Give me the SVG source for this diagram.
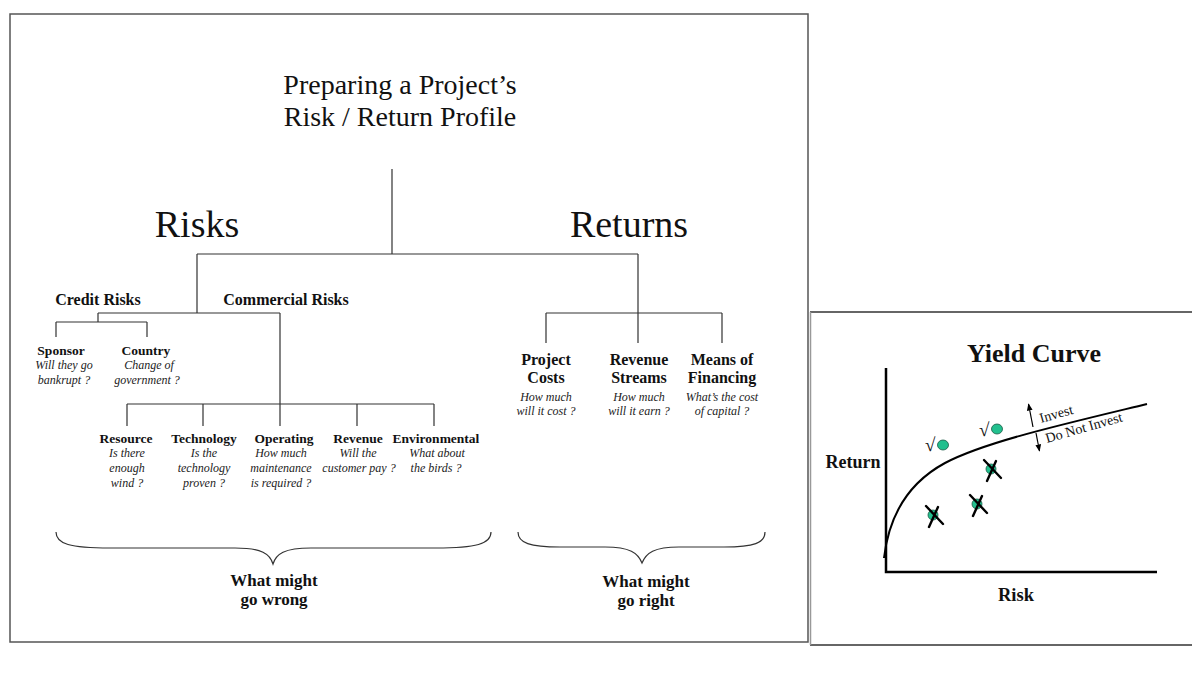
<svg xmlns="http://www.w3.org/2000/svg" width="1192" height="679" viewBox="0 0 1192 679">
<defs>
<style>
text{font-family:"Liberation Serif","Times New Roman",serif;fill:#111}
.t{font-size:28px;text-anchor:middle}
.big{font-size:38px;text-anchor:middle}
.h{font-size:16px;font-weight:bold;text-anchor:middle}
.b{font-size:13.5px;font-weight:bold;text-anchor:middle}
.i{font-size:12px;font-style:italic;text-anchor:middle;fill:#222}
.w{font-size:17px;font-weight:bold;text-anchor:middle}
.c{fill:none;stroke:#333;stroke-width:1.2}
.ax{fill:none;stroke:#000;stroke-width:2.5}
.dot{fill:#22c08e;stroke:#1a5a45;stroke-width:0.8}
.x{stroke:#000;stroke-width:2.4;stroke-linecap:round;fill:none}
.chk{font-size:19px}
</style>
<marker id="ah" viewBox="0 0 10 10" refX="9" refY="5" markerWidth="6" markerHeight="6" orient="auto">
<path d="M0,1 L10,5 L0,9 Z" fill="#000"/>
</marker>
</defs>
<rect width="1192" height="679" fill="#fff"/>
<!-- frames -->
<rect x="10" y="14" width="798" height="628" fill="none" stroke="#555" stroke-width="1.5"/>
<line x1="810" y1="312" x2="1192" y2="312" stroke="#666" stroke-width="2"/>
<line x1="810" y1="645" x2="1192" y2="645" stroke="#666" stroke-width="2"/>
<line x1="810.5" y1="312" x2="810.5" y2="645" stroke="#999" stroke-width="1.5"/>

<g id="connectors">
<path class="c" d="M392,169 V254 M197,254 H638 M197,254 V313 M638,254 V313"/>
<path class="c" d="M98,313 H280 M98,313 V322 M56,322 H147 M56,322 V337 M147,322 V337"/>
<path class="c" d="M280,313 V404 M127,404 H434 M127,404 V426 M203,404 V426 M280,404 V426 M357,404 V426 M434,404 V426"/>
<path class="c" d="M546,313 H722 M546,313 V343 M638,313 V343 M722,313 V343"/>
</g>

<g id="title"><text class="t" x="400" y="94">Preparing a Project’s</text><text class="t" x="400" y="126">Risk / Return Profile</text></g>
<g id="risks"><text class="big" x="197" y="237">Risks</text></g>
<g id="returns"><text class="big" x="629" y="237">Returns</text></g>
<g id="credit"><text class="h" x="98" y="305">Credit Risks</text></g>
<g id="commercial"><text class="h" x="286" y="305">Commercial Risks</text></g>

<g id="sponsor"><text class="b" x="61" y="355">Sponsor</text><text class="i" x="64" y="369">Will they go</text><text class="i" x="64" y="384">bankrupt ?</text></g>
<g id="country"><text class="b" x="146" y="355">Country</text><text class="i" x="149" y="369">Change of</text><text class="i" x="147" y="384">government ?</text></g>

<g id="resource"><text class="b" x="126" y="443">Resource</text><text class="i" x="127" y="457">Is there</text><text class="i" x="127" y="472">enough</text><text class="i" x="127" y="487">wind ?</text></g>
<g id="technology"><text class="b" x="204" y="443">Technology</text><text class="i" x="204" y="457">Is the</text><text class="i" x="204" y="472">technology</text><text class="i" x="204" y="487">proven ?</text></g>
<g id="operating"><text class="b" x="284" y="443">Operating</text><text class="i" x="281" y="457">How much</text><text class="i" x="281" y="472">maintenance</text><text class="i" x="281" y="487">is required ?</text></g>
<g id="revenue"><text class="b" x="358" y="443">Revenue</text><text class="i" x="358" y="457">Will the</text><text class="i" x="359" y="472">customer pay ?</text></g>
<g id="environmental"><text class="b" x="436" y="443">Environmental</text><text class="i" x="437" y="457">What about</text><text class="i" x="436" y="472">the birds ?</text></g>

<g id="projectcosts"><text class="h" x="546" y="365">Project</text><text class="h" x="546" y="383">Costs</text><text class="i" x="546" y="401">How much</text><text class="i" x="546" y="415">will it cost ?</text></g>
<g id="revenuestreams"><text class="h" x="639" y="365">Revenue</text><text class="h" x="639" y="383">Streams</text><text class="i" x="639" y="401">How much</text><text class="i" x="639" y="415">will it earn ?</text></g>
<g id="financing"><text class="h" x="722" y="365">Means of</text><text class="h" x="722" y="383">Financing</text><text class="i" x="722" y="401">What’s the cost</text><text class="i" x="722" y="415">of capital ?</text></g>

<g id="wrong">
<path class="c" d="M56,532 C56,544 70,548 110,548 L235,548 C262,548 270,554 273,564 C276,554 284,548 311,548 L436,548 C476,548 491,544 491,532"/>
<text class="w" x="274" y="586">What might</text><text class="w" x="274" y="605">go wrong</text>
</g>
<g id="right">
<path class="c" d="M518,532 C518,543 530,547 560,547 L605,547 C630,547 638,553 642,563 C646,553 654,547 679,547 L724,547 C754,547 765,543 765,532"/>
<text class="w" x="646" y="587">What might</text><text class="w" x="646" y="606">go right</text>
</g>

<g id="yieldcurve">
<text x="1034" y="362" style="font-size:26px;font-weight:bold;text-anchor:middle">Yield Curve</text>
<text x="853" y="468" style="font-size:18px;font-weight:bold;text-anchor:middle">Return</text>
<text x="1016" y="601" style="font-size:18.5px;font-weight:bold;text-anchor:middle">Risk</text>
<path class="ax" d="M886,368 V572 H1157"/>
<path d="M884,558 C889,515 908,483 945,463 C985,442 1060,425 1147,404" fill="none" stroke="#000" stroke-width="2"/>
<line x1="1033" y1="427" x2="1028.5" y2="404" stroke="#000" stroke-width="1.2" marker-end="url(#ah)"/>
<line x1="1036" y1="433" x2="1039.5" y2="451" stroke="#000" stroke-width="1.2" marker-end="url(#ah)"/>
<text transform="translate(1041,423) rotate(-16)" style="font-size:14px">Invest</text>
<text transform="translate(1047,443) rotate(-16)" style="font-size:14px">Do Not Invest</text>
<text class="chk" x="925" y="451">√</text>
<ellipse class="dot" cx="943" cy="445" rx="5.5" ry="5"/>
<text class="chk" x="979" y="436">√</text>
<ellipse class="dot" cx="997" cy="429" rx="5.5" ry="5"/>
<ellipse class="dot" cx="991" cy="469" rx="5" ry="5"/>
<path class="x" d="M984,460 L1001,478 M996,461 L987,481"/>
<ellipse class="dot" cx="977" cy="504" rx="5" ry="5"/>
<path class="x" d="M970,495 L987,513 M982,496 L973,516"/>
<ellipse class="dot" cx="933" cy="515" rx="5" ry="5"/>
<path class="x" d="M926,506 L943,524 M938,507 L929,527"/>
</g>
</svg>
